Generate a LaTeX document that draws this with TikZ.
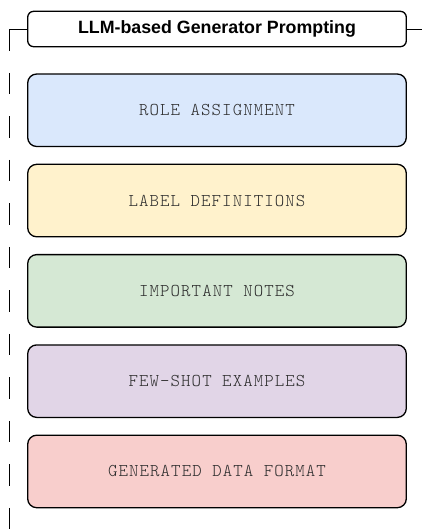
\documentclass[tikz,border=0pt]{standalone}
\usepackage{fontspec}
\setmainfont{Liberation Sans}
\newfontfamily\codefont[LetterSpace=6]{Latin Modern Mono Light}
\definecolor{roleblue}{HTML}{DAE8FC}
\definecolor{labelyellow}{HTML}{FFF2CC}
\definecolor{notegreen}{HTML}{D5E8D4}
\definecolor{shotpurple}{HTML}{E1D5E7}
\definecolor{formatred}{HTML}{F8CECC}
\definecolor{labeltext}{HTML}{2E2E2E}
\tikzset{
  titlebox/.style={draw=black, line width=1.3pt, rounded corners=6pt, fill=white,
    minimum width=378.6pt, minimum height=35.4pt, inner sep=0pt,
    font=\fontsize{17.8}{20}\selectfont\bfseries},
  partbox/.style={draw=black, line width=1.3pt, rounded corners=9pt,
    minimum width=378.6pt, minimum height=72.5pt, inner sep=0pt,
    text=labeltext, font=\fontsize{18}{20}\selectfont\codefont},
  wire/.style={draw=black, line width=1.3pt},
  dashwire/.style={draw=black, line width=1.4pt, dash pattern=on 21.5pt off 22pt}
}
\begin{document}
\begin{tikzpicture}[x=1pt, y=-1pt]
  \useasboundingbox (0,0) rectangle (422,531);

  % header and outline rail
  \node[titlebox] (title) at (217,29) {LLM-based Generator Prompting};
  \coordinate (railtop) at (9.5,29.3);
  \coordinate (railend) at (9.5,531);
  \coordinate (tailend) at (422,29.3);
  \draw[wire] (title.west |- railtop) -- (railtop);
  \draw[dashwire] (railtop) -- (railend);
  \draw[wire] (title.east |- tailend) -- (tailend);

  % prompt sections
  \node[partbox, fill=roleblue]    (role)   at (217,110.25) {ROLE ASSIGNMENT};
  \node[partbox, fill=labelyellow] (labels) at (217,200.55) {LABEL DEFINITIONS};
  \node[partbox, fill=notegreen]   (notes)  at (217,290.85) {IMPORTANT NOTES};
  \node[partbox, fill=shotpurple]  (shots)  at (217,381.15) {FEW-SHOT EXAMPLES};
  \node[partbox, fill=formatred]   (format) at (217,471.45) {GENERATED DATA FORMAT};
\end{tikzpicture}
\end{document}
